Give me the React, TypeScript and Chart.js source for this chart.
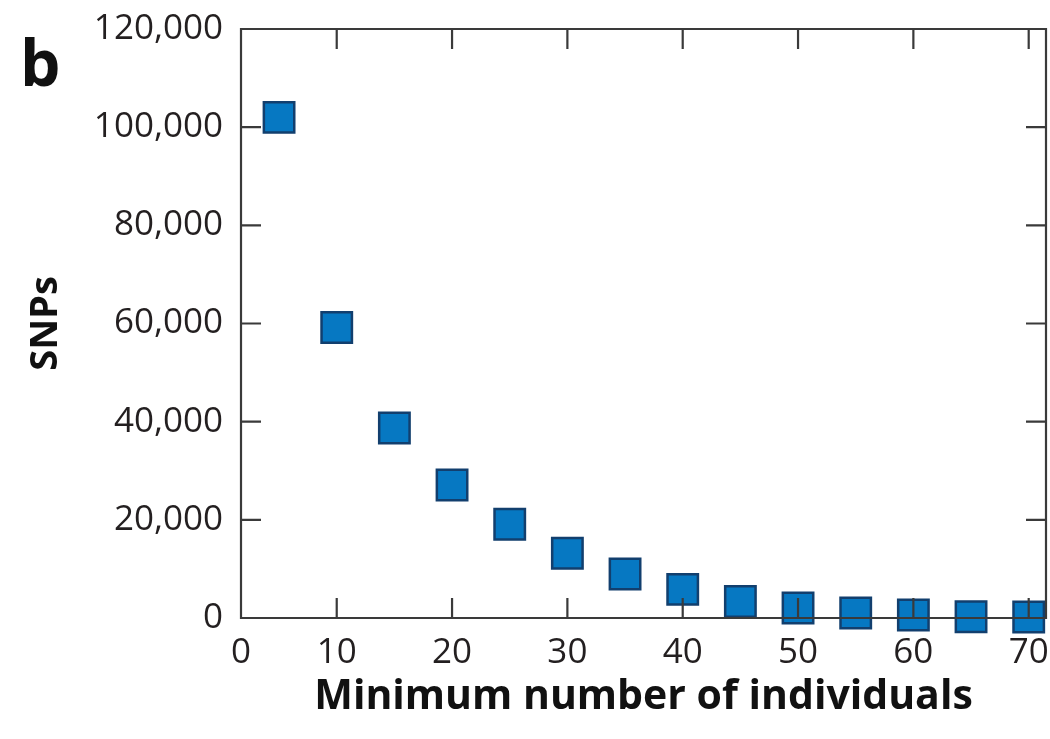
import React, { useEffect, useRef } from "react";
import { Chart, registerables } from "chart.js";

Chart.register(...registerables);

const minIndividuals = [5, 10, 15, 20, 25, 30, 35, 40, 45, 50, 55, 60, 65, 70];
const snpCounts = [102000, 59200, 38700, 27100, 19100, 13200, 8950, 5840, 3360, 2030, 1020, 610, 250, 200];
const xTickValues = [10, 20, 30, 40, 50, 60, 70];
const X_MIN = 1.7;
const X_MAX = 71.5;
const Y_MIN = 0;
const Y_MAX = 120000;
const Y_STEP = 20000;
const panelLabel = "b";
const xTitle = "Minimum number of individuals";
const yTitle = "SNPs";

const FONT = "'Open Sans', 'Noto Sans', sans-serif";
const TEXT = "#231f20";
const AXIS = "#3a3a3a";

const boxPlugin = {
  id: "boxTicks",
  afterDraw(chart: any) {
    const { ctx, chartArea } = chart;
    const { left, right, top, bottom } = chartArea;
    const xs = chart.scales.x;
    const ys = chart.scales.y;
    const tl = 20;
    ctx.save();
    ctx.strokeStyle = AXIS;
    ctx.lineWidth = 2.2;
    ctx.beginPath();
    ctx.rect(left, top, right - left, bottom - top);
    ctx.stroke();
    ctx.beginPath();
    xs.ticks.forEach((t: any) => {
      const px = xs.getPixelForValue(t.value);
      if (px <= left + 1 || px >= right - 1) return;
      ctx.moveTo(px, bottom);
      ctx.lineTo(px, bottom - tl);
      ctx.moveTo(px, top);
      ctx.lineTo(px, top + tl);
    });
    ys.ticks.forEach((t: any) => {
      const py = ys.getPixelForValue(t.value);
      if (py <= top + 1 || py >= bottom - 1) return;
      ctx.moveTo(left, py);
      ctx.lineTo(left + tl, py);
      ctx.moveTo(right, py);
      ctx.lineTo(right - tl, py);
    });
    ctx.stroke();
    ctx.fillStyle = "#111111";
    ctx.font = `bold 64px ${FONT}`;
    ctx.textBaseline = "alphabetic";
    ctx.textAlign = "left";
    ctx.fillText(panelLabel, 20, 86);
    ctx.restore();
  },
};

export default function App() {
  const ref = useRef<HTMLCanvasElement | null>(null);
  useEffect(() => {
    document.body.style.margin = "0";
    const canvas = ref.current;
    if (!canvas) return;
    const chart = new Chart(canvas, {
      type: "scatter",
      data: {
        datasets: [
          {
            label: yTitle,
            data: minIndividuals.map((x, i) => ({ x, y: snpCounts[i] })),
            pointStyle: "rect",
            pointRadius: 21.5,
            pointHoverRadius: 21.5,
            backgroundColor: "#0678c2",
            borderColor: "#123f6e",
            borderWidth: 2.5,
            clip: false,
          } as any,
        ],
      },
      options: {
        responsive: false,
        devicePixelRatio: 1,
        animation: false,
        events: [],
        layout: { autoPadding: false, padding: { top: 29, right: 4, left: 0, bottom: 0 } },
        plugins: {
          legend: { display: false },
          tooltip: { enabled: false },
        },
        scales: {
          x: {
            type: "linear",
            min: X_MIN,
            max: X_MAX,
            grid: { display: false },
            border: { display: false },
            afterBuildTicks: (scale: any) => {
              scale.ticks = [X_MIN, ...xTickValues].map((v) => ({ value: v }));
            },
            afterFit: (scale: any) => {
              scale.height = 121;
              scale.paddingLeft = 0;
              scale.paddingRight = 0;
              scale.paddingTop = 0;
              scale.paddingBottom = 0;
            },
            ticks: {
              autoSkip: false,
              maxRotation: 0,
              padding: 6,
              color: TEXT,
              font: { family: FONT, size: 35 },
              callback: (v: any) => (v === X_MIN ? "0" : String(v)),
            },
            title: {
              display: true,
              text: xTitle,
              color: "#111111",
              font: { family: FONT, size: 41, weight: "bold" },
              padding: { top: 0, bottom: 17 },
            },
          },
          y: {
            type: "linear",
            min: Y_MIN,
            max: Y_MAX,
            grid: { display: false },
            border: { display: false },
            afterFit: (scale: any) => {
              scale.width = 241;
              scale.paddingTop = 0;
              scale.paddingBottom = 0;
              scale.paddingLeft = 0;
              scale.paddingRight = 0;
            },
            ticks: {
              stepSize: Y_STEP,
              padding: 10,
              color: TEXT,
              font: { family: FONT, size: 35 },
              callback: (v: any) => Number(v).toLocaleString("en-US"),
            },
            title: {
              display: true,
              text: yTitle,
              color: "#111111",
              font: { family: FONT, size: 38, weight: "bold" },
              padding: { top: 23, bottom: 0 },
            },
          },
        },
      },
      plugins: [boxPlugin],
    });
    return () => chart.destroy();
  }, []);
  return (
    <div style={{ position: "relative", width: 1050, height: 739 }}>
      <canvas ref={ref} width={1050} height={739} style={{ display: "block" }} />
    </div>
  );
}
